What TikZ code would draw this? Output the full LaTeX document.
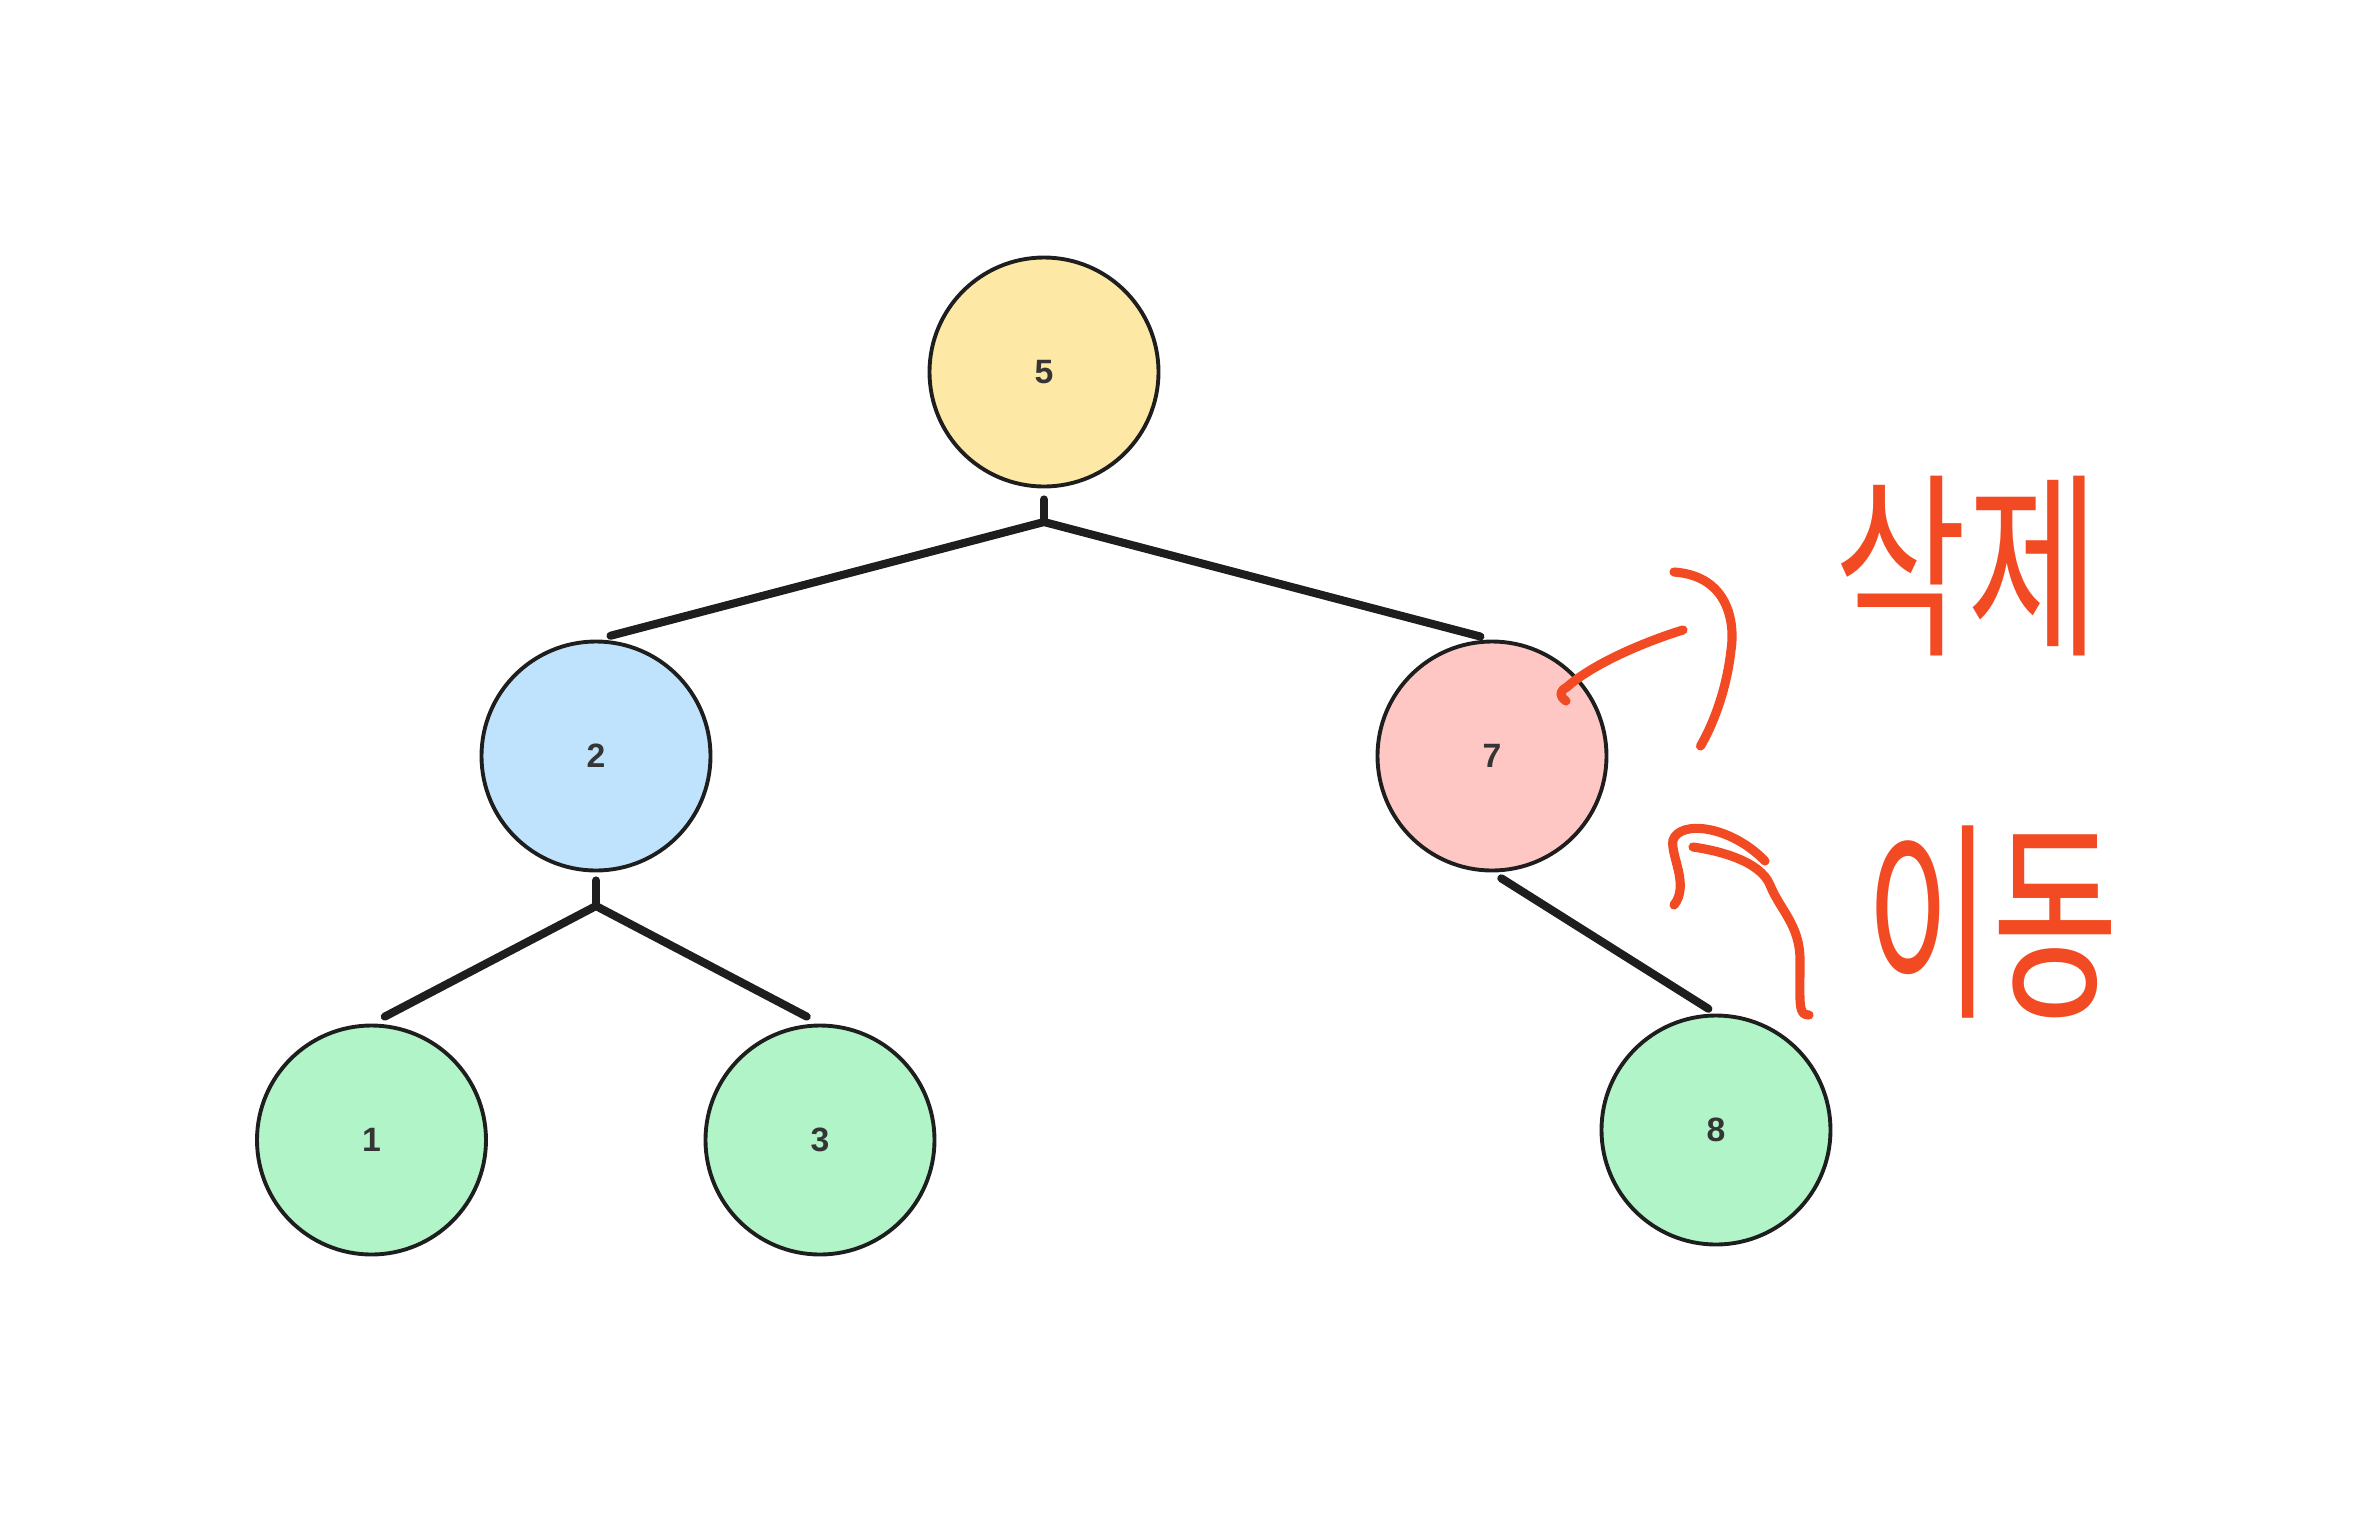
\documentclass[tikz,border=0pt]{standalone}
\usepackage{fontspec}
\setmainfont{Liberation Sans}
\newfontfamily\kor{Noto Sans CJK KR}
\usepackage{tikz}
\usetikzlibrary{calc}
\definecolor{nodeyellow}{RGB}{254,232,166}
\definecolor{nodeblue}{RGB}{192,227,253}
\definecolor{nodepink}{RGB}{255,199,196}
\definecolor{nodegreen}{RGB}{176,244,200}
\definecolor{pen}{RGB}{242,75,36}
\definecolor{ink}{RGB}{30,30,30}

\begin{document}
\begin{tikzpicture}
\tikzset{vertex/.style = {shape=circle,draw=ink,line width=1.1pt,minimum size=2.29cm,inner sep=0pt,font=\fontsize{9.6}{11}\selectfont\bfseries,text=ink!90}}
\tikzset{edge/.style = {draw=ink,line width=2.3pt,line cap=round,line join=round}}
\tikzset{pen/.style = {draw=pen,line width=2.6pt,line cap=round,line join=round}}
\tikzset{note/.style = {text=pen,font=\kor\fontsize{39}{40}\selectfont,inner sep=0pt}}
\useasboundingbox (0,0) rectangle (23.69,-15.12);
\node[vertex,fill=nodeyellow] (a) at (10.44,-3.72) {5};
\node[vertex,fill=nodeblue] (b) at (5.96,-7.56) {2};
\node[vertex,fill=nodepink] (c) at (14.92,-7.56) {7};
\node[vertex,fill=nodegreen] (d) at (3.715,-11.40) {1};
\node[vertex,fill=nodegreen] (e) at (8.20,-11.40) {3};
\node[vertex,fill=nodegreen] (f) at (17.16,-11.30) {8};
\coordinate (fa) at (10.44,-5.22);
\coordinate (fb) at (5.96,-9.06);
\draw[edge,shorten <=0.11cm] (a) -- (fa);
\draw[edge,shorten >=0.15cm] (fa) -- (b.north);
\draw[edge,shorten >=0.12cm] (fa) -- (c.north);
\draw[edge,shorten <=0.08cm] (b) -- (fb);
\draw[edge,shorten >=0.15cm] (fb) -- (d.north);
\draw[edge,shorten >=0.15cm] (fb) -- (e.north);
\draw[edge,shorten <=0.11cm,shorten >=0.09cm] (c.south) -- (f.north);
% hand notes
\node[note] (del) at (19.67,-5.66) {\scalebox{1.05}[1.45]{삭제}};
\node[note] (mov) at (19.92,-9.22) {\scalebox{1}[1.55]{이동}};
\draw[pen] (15.66,-7.01) .. controls (15.58,-6.95) and (15.60,-6.91) .. (15.67,-6.87)
  .. controls (15.95,-6.62) and (16.50,-6.40) .. (16.83,-6.30);
\draw[pen] (16.74,-5.72) .. controls (17.30,-5.76) and (17.35,-6.25) .. (17.31,-6.50)
  .. controls (17.26,-6.95) and (17.10,-7.30) .. (17.005,-7.46);
\draw[pen] (18.09,-10.15) .. controls (17.98,-10.15) and (18.00,-10.05) .. (18.00,-9.60)
  .. controls (18.00,-9.25) and (17.80,-9.10) .. (17.70,-8.85)
  .. controls (17.60,-8.60) and (17.15,-8.50) .. (16.93,-8.47);
\draw[pen] (16.74,-9.05) .. controls (16.90,-8.85) and (16.70,-8.55) .. (16.73,-8.40)
  .. controls (16.80,-8.20) and (17.30,-8.25) .. (17.65,-8.61);
\end{tikzpicture}
\end{document}
